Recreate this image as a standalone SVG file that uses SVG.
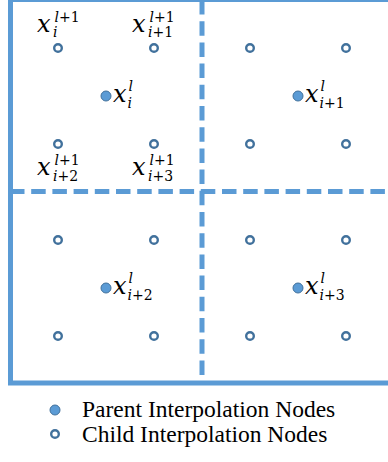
<svg xmlns="http://www.w3.org/2000/svg" width="388" height="462" viewBox="0 0 388 462">
  <style>
    .frame { fill: none; stroke: #5B9BD5; stroke-width: 5; }
    .split { fill: none; stroke: #5B9BD5; stroke-width: 5; stroke-dasharray: 14.5 6.7; }
    .parent { fill: #5B9BD5; stroke: #41719C; stroke-width: 1; }
    .child { fill: #FFFFFF; stroke: #41719C; stroke-width: 2.4; }
    .m { font-family: "DejaVu Serif", "Liberation Serif", serif; font-size: 24px; font-style: italic; fill: #000; }
    .s { font-family: "DejaVu Serif", "Liberation Serif", serif; font-size: 14px; font-style: normal; fill: #000; }
    .it { font-style: italic; }
    .legend { font-family: "Liberation Serif", "Times New Roman", serif; font-size: 23.5px; fill: #000; }
  </style>

  <!-- outer boundary and the two dashed split lines -->
  <g id="frame">
    <rect class="frame" x="10.5" y="-0.5" width="400" height="383.5"/>
    <line class="split" x1="10" y1="191.5" x2="392" y2="191.5"/>
    <line class="split" x1="202" y1="0" x2="202" y2="383"/>
  </g>

  <g id="connectors"></g>

  <!-- child nodes, top-left cell -->
  <g id="child-tl-1">
    <circle class="child" cx="58" cy="48" r="3.8"/>
    <text class="m" x="37" y="32">x<tspan class="s" x="54.5" y="22"><tspan class="it">l</tspan>+1</tspan><tspan class="s it" x="53" y="37">i</tspan></text>
  </g>
  <g id="child-tl-2">
    <circle class="child" cx="154" cy="48" r="3.8"/>
    <text class="m" x="132" y="32">x<tspan class="s" x="149.5" y="22"><tspan class="it">l</tspan>+1</tspan><tspan class="s" x="148" y="37"><tspan class="it">i</tspan>+1</tspan></text>
  </g>
  <g id="child-tl-3">
    <circle class="child" cx="58" cy="144" r="3.8"/>
    <text class="m" x="37" y="175">x<tspan class="s" x="54.5" y="164.5"><tspan class="it">l</tspan>+1</tspan><tspan class="s" x="53" y="181"><tspan class="it">i</tspan>+2</tspan></text>
  </g>
  <g id="child-tl-4">
    <circle class="child" cx="154" cy="144" r="3.8"/>
    <text class="m" x="132" y="175">x<tspan class="s" x="149.5" y="164.5"><tspan class="it">l</tspan>+1</tspan><tspan class="s" x="148" y="181"><tspan class="it">i</tspan>+3</tspan></text>
  </g>

  <!-- child nodes, other cells -->
  <g id="child-tr-1"><circle class="child" cx="250" cy="48" r="3.8"/></g>
  <g id="child-tr-2"><circle class="child" cx="346" cy="48" r="3.8"/></g>
  <g id="child-tr-3"><circle class="child" cx="250" cy="144" r="3.8"/></g>
  <g id="child-tr-4"><circle class="child" cx="346" cy="144" r="3.8"/></g>
  <g id="child-bl-1"><circle class="child" cx="58" cy="240" r="3.8"/></g>
  <g id="child-bl-2"><circle class="child" cx="154" cy="240" r="3.8"/></g>
  <g id="child-bl-3"><circle class="child" cx="58" cy="336" r="3.8"/></g>
  <g id="child-bl-4"><circle class="child" cx="154" cy="336" r="3.8"/></g>
  <g id="child-br-1"><circle class="child" cx="250" cy="240" r="3.8"/></g>
  <g id="child-br-2"><circle class="child" cx="346" cy="240" r="3.8"/></g>
  <g id="child-br-3"><circle class="child" cx="250" cy="336" r="3.8"/></g>
  <g id="child-br-4"><circle class="child" cx="346" cy="336" r="3.8"/></g>

  <!-- parent nodes -->
  <g id="parent-i">
    <circle class="parent" cx="106" cy="96" r="5"/>
    <text class="m" x="113" y="102">x<tspan class="s it" x="128.5" y="91">l</tspan><tspan class="s it" x="127.5" y="108">i</tspan></text>
  </g>
  <g id="parent-i1">
    <circle class="parent" cx="298" cy="96" r="5"/>
    <text class="m" x="305" y="102">x<tspan class="s it" x="320.5" y="91">l</tspan><tspan class="s" x="319.5" y="108"><tspan class="it">i</tspan>+1</tspan></text>
  </g>
  <g id="parent-i2">
    <circle class="parent" cx="106" cy="288" r="5"/>
    <text class="m" x="113" y="294">x<tspan class="s it" x="128.5" y="283">l</tspan><tspan class="s" x="127.5" y="300"><tspan class="it">i</tspan>+2</tspan></text>
  </g>
  <g id="parent-i3">
    <circle class="parent" cx="298" cy="288" r="5"/>
    <text class="m" x="305" y="294">x<tspan class="s it" x="320.5" y="283">l</tspan><tspan class="s" x="319.5" y="300"><tspan class="it">i</tspan>+3</tspan></text>
  </g>

  <!-- legend -->
  <g id="legend">
    <circle class="parent" cx="55" cy="410" r="5"/>
    <text class="legend" x="82" y="417">Parent Interpolation Nodes</text>
    <circle class="child" cx="55" cy="434" r="3.8"/>
    <text class="legend" x="82" y="442">Child Interpolation Nodes</text>
  </g>
</svg>
